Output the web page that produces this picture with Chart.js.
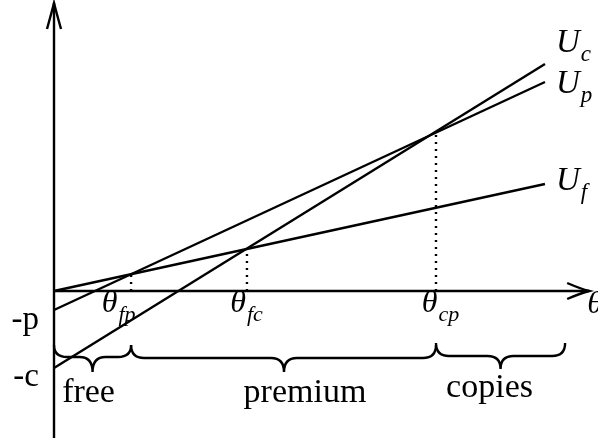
<!DOCTYPE html>
<html>
<head>
<meta charset="utf-8">
<script src="https://cdn.jsdelivr.net/npm/chart.js@4"></script>
<style>
  html, body { margin: 0; padding: 0; background: #fff; }
  canvas { display: block; }
</style>
</head>
<body>
<canvas id="chart" width="598" height="441"></canvas>
<script>
// endpoints of the three utility lines
const theta = [0, 1];
const Uf = [0, 1.07];
const Up = [-0.19, 2.09];
const Uc = [-0.77, 2.27];
const lineNames = ['c', 'p', 'f'];

// crossing points
const cutNames = ['fp', 'fc', 'cp'];
const cutTheta = [0.157, 0.393, 0.778];
const cutHeight = [0.17, 0.42, 1.59];

// regions below the axis
const segments = ['free', 'premium', 'copies'];
const segmentEdges = [0, 0.157, 0.778, 1.041];

const intercepts = ['-p', '-c'];

const black = '#000';
const serif = '"Liberation Serif", "DejaVu Serif", serif';

function pts(ys) {
    return theta.map((t, i) => ({ x: t, y: ys[i] }));
}

const datasets = [
    { data: pts(Uc), borderColor: black, borderWidth: 2.4 },
    { data: pts(Up), borderColor: black, borderWidth: 2.4 },
    { data: pts(Uf), borderColor: black, borderWidth: 2.4 },
    // axes
    { data: [{ x: 0, y: 0 }, { x: 1.09, y: 0 }], borderColor: black, borderWidth: 2.4 },
    { data: [{ x: 0, y: -1.47 }, { x: 0, y: 2.88 }], borderColor: black, borderWidth: 2.4 }
];

cutTheta.forEach((t, i) => {
    datasets.push({
        data: [{ x: t, y: 0 }, { x: t, y: cutHeight[i] }],
        borderColor: black,
        borderWidth: 2.4,
        borderDash: [2, 5]
    });
});

// text with a subscript
function subText(ctx, main, sub, x, y, size) {
    ctx.font = 'italic ' + size + 'px ' + serif;
    ctx.textAlign = 'left';
    ctx.fillText(main, x, y);
    const w = ctx.measureText(main).width;
    ctx.font = 'italic ' + Math.round(size * 0.7) + 'px ' + serif;
    ctx.fillText(sub, x + w + 1, y + size * 0.28);
    return w + ctx.measureText(sub).width;
}

function brace(ctx, x1, x2, xm, yTop, yMid, yTip) {
    const r = 13;
    ctx.beginPath();
    ctx.moveTo(x1, yTop);
    ctx.quadraticCurveTo(x1, yMid, x1 + r, yMid);
    ctx.lineTo(xm - r, yMid);
    ctx.quadraticCurveTo(xm, yMid, xm, yTip);
    ctx.quadraticCurveTo(xm, yMid, xm + r, yMid);
    ctx.lineTo(x2 - r, yMid);
    ctx.quadraticCurveTo(x2, yMid, x2, yTop);
    ctx.stroke();
}

const sketch = {
    id: 'sketch',
    afterDraw(chart) {
        const ctx = chart.ctx;
        const xs = chart.scales.x, ys = chart.scales.y;
        const x0 = xs.getPixelForValue(0), y0 = ys.getPixelForValue(0);
        ctx.save();
        ctx.fillStyle = black;
        ctx.strokeStyle = black;
        ctx.lineWidth = 2.4;
        ctx.textBaseline = 'alphabetic';

        // arrow heads
        const xt = xs.getPixelForValue(1.09), yt = ys.getPixelForValue(2.88);
        ctx.beginPath();
        ctx.moveTo(xt - 22, y0 - 8);
        ctx.quadraticCurveTo(xt - 8, y0 - 2, xt, y0);
        ctx.quadraticCurveTo(xt - 8, y0 + 2, xt - 22, y0 + 8);
        ctx.stroke();
        ctx.beginPath();
        ctx.moveTo(x0 - 7, yt + 26);
        ctx.quadraticCurveTo(x0 - 2, yt + 8, x0, yt);
        ctx.quadraticCurveTo(x0 + 2, yt + 8, x0 + 7, yt + 26);
        ctx.stroke();

        // line labels
        const ends = [Uc[1], Up[1], Uf[1]];
        const dy = [-12, 11, 6];
        ends.forEach((v, i) => {
            subText(ctx, 'U', lineNames[i], xs.getPixelForValue(1) + 11, ys.getPixelForValue(v) + dy[i], 33);
        });

        // crossing labels
        const dx = [-13, -1, 4];
        cutTheta.forEach((t, i) => {
            ctx.font = 'italic 32px ' + serif;
            const w1 = ctx.measureText('\u03b8').width;
            ctx.font = 'italic 22px ' + serif;
            const w2 = ctx.measureText(cutNames[i]).width;
            const cx = xs.getPixelForValue(t) + dx[i];
            subText(ctx, '\u03b8', cutNames[i], cx - (w1 + w2) / 2, y0 + 21, 32);
        });
        ctx.font = 'italic 32px ' + serif;
        ctx.textAlign = 'left';
        ctx.fillText('\u03b8', xt - 2, y0 + 22);

        // intercept labels
        ctx.font = '33px ' + serif;
        ctx.textAlign = 'right';
        ctx.fillText(intercepts[0], x0 - 15, 329);
        ctx.fillText(intercepts[1], x0 - 15, 386);

        // braces and region labels
        const lx = [-4, 21, -11];
        const by = [[345, 357, 372], [345, 358, 372], [343, 356, 369]];
        segments.forEach((s, i) => {
            const a = xs.getPixelForValue(segmentEdges[i]);
            const b = xs.getPixelForValue(segmentEdges[i + 1]);
            const m = i === 1 ? 284 : (a + b) / 2;
            brace(ctx, a, b, m, by[i][0], by[i][1], by[i][2]);
            ctx.font = '34px ' + serif;
            ctx.textAlign = 'center';
            ctx.fillText(s, m + lx[i], i === 2 ? 397 : 402);
        });
        ctx.restore();
    }
};

new Chart(document.getElementById('chart'), {
    type: 'line',
    data: { datasets },
    options: {
        responsive: false,
        animation: false,
        devicePixelRatio: 1,
        layout: { padding: 0 },
        elements: { point: { radius: 0 }, line: { tension: 0 } },
        plugins: { legend: { display: false }, tooltip: { enabled: false } },
        scales: {
            x: { type: 'linear', display: false, min: -0.110, max: 1.108 },
            y: { type: 'linear', display: false, min: -1.50, max: 2.91 }
        }
    },
    plugins: [sketch]
});
</script>
</body>
</html>
